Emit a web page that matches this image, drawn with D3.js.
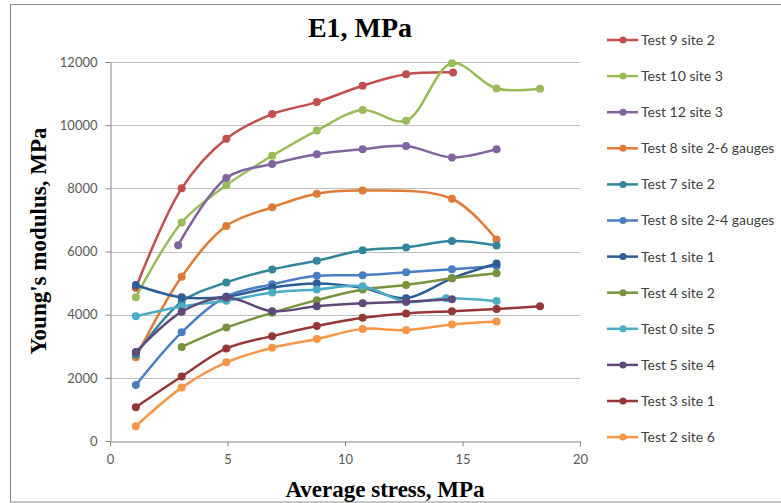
<!DOCTYPE html>
<html>
<head>
<meta charset="utf-8">
<script src="https://cdn.jsdelivr.net/npm/d3@7"></script>
<style>
  body { margin: 0; background: #fff; }
  svg { display: block; }
</style>
</head>
<body>
<svg id="chart" width="781" height="503"></svg>
<script>
// ---- Data ----
const seriesNames = [
  "Test 9 site 2", "Test 10 site 3", "Test 12 site 3", "Test 8 site 2-6 gauges",
  "Test 7 site 2", "Test 8 site 2-4 gauges", "Test 1 site 1", "Test 4 site 2",
  "Test 0 site 5", "Test 5 site 4", "Test 3 site 1", "Test 2 site 6"
];
const seriesColors = [
  "#C0504D", "#9BBB59", "#8064A2", "#E07B35",
  "#31859C", "#4A7EC2", "#2C5D97", "#77933C",
  "#4BACC6", "#5F497A", "#953735", "#F79646"
];
const test9site2X = [1.1, 3.05, 4.95, 6.9, 8.8, 10.75, 12.6, 14.6];
const test9site2Y = [4850, 8000, 9570, 10350, 10730, 11250, 11610, 11670];
const test10site3X = [1.1, 3.05, 4.95, 6.9, 8.8, 10.75, 12.6, 14.55, 16.45, 18.3];
const test10site3Y = [4550, 6920, 8100, 9030, 9830, 10480, 10140, 11960, 11160, 11150];
const test12site3X = [2.9, 4.95, 6.9, 8.8, 10.75, 12.6, 14.55, 16.45];
const test12site3Y = [6200, 8330, 8770, 9080, 9240, 9340, 8980, 9240];
const test8site26X = [1.1, 3.05, 4.95, 6.9, 8.8, 10.75, 14.55, 16.45];
const test8site26Y = [2650, 5200, 6810, 7400, 7830, 7930, 7670, 6380];
const test7site2X = [1.1, 3.05, 4.95, 6.9, 8.8, 10.75, 12.6, 14.55, 16.45];
const test7site2Y = [2730, 4410, 5020, 5430, 5710, 6040, 6130, 6330, 6190];
const test8site24X = [1.1, 3.05, 4.95, 6.9, 8.8, 10.75, 12.6, 14.55, 16.45];
const test8site24Y = [1770, 3440, 4570, 4960, 5230, 5250, 5340, 5440, 5540];
const test1site1X = [1.1, 3.05, 4.95, 6.9, 8.8, 10.75, 12.6, 14.55, 16.45];
const test1site1Y = [4940, 4550, 4570, 4860, 4990, 4850, 4520, 5150, 5620];
const test4site2X = [3.05, 4.95, 6.9, 8.8, 10.75, 12.6, 14.55, 16.45];
const test4site2Y = [2980, 3590, 4060, 4460, 4800, 4940, 5150, 5310];
const test0site5X = [1.1, 3.05, 4.95, 6.9, 8.8, 10.75, 12.6, 14.3, 16.45];
const test0site5Y = [3950, 4260, 4440, 4700, 4800, 4900, 4410, 4520, 4430];
const test5site4X = [1.1, 3.05, 4.95, 6.9, 8.8, 10.75, 12.6, 14.55];
const test5site4Y = [2820, 4090, 4540, 4110, 4270, 4360, 4410, 4490];
const test3site1X = [1.1, 3.05, 4.95, 6.9, 8.8, 10.75, 12.6, 14.55, 16.45, 18.3];
const test3site1Y = [1070, 2040, 2930, 3320, 3640, 3900, 4040, 4110, 4180, 4270];
const test2site6X = [1.1, 3.05, 4.95, 6.9, 8.8, 10.75, 12.6, 14.55, 16.45];
const test2site6Y = [470, 1690, 2490, 2950, 3230, 3550, 3510, 3690, 3780];

const xTicks = [0, 5, 10, 15, 20];
const yTicks = [0, 2000, 4000, 6000, 8000, 10000, 12000];
const chartTitle = "E1, MPa";
const xTitle = "Average stress, MPa";
const yTitle = "Young's modulus, MPa";

const allX = [test9site2X, test10site3X, test12site3X, test8site26X, test7site2X, test8site24X,
  test1site1X, test4site2X, test0site5X, test5site4X, test3site1X, test2site6X];
const allY = [test9site2Y, test10site3Y, test12site3Y, test8site26Y, test7site2Y, test8site24Y,
  test1site1Y, test4site2Y, test0site5Y, test5site4Y, test3site1Y, test2site6Y];
const series = seriesNames.map((name, i) => ({
  name, color: seriesColors[i],
  points: allX[i].map((x, j) => ({ x, y: allY[i][j] }))
}));

// ---- Layout ----
const svg = d3.select("#chart");
const plot = { left: 110, right: 580, top: 62, bottom: 441 };

// chart border
svg.append("rect")
  .attr("x", 10.5).attr("y", 4.5).attr("width", 772).attr("height", 497.5)
  .attr("fill", "none").attr("stroke", "#8c8c8c").attr("stroke-width", 1);

const x = d3.scaleLinear().domain([0, 20]).range([plot.left, plot.right]);
const y = d3.scaleLinear().domain([0, 12000]).range([plot.bottom, plot.top]);

// gridlines
svg.append("g")
  .selectAll("line")
  .data(yTicks.filter(d => d > 0))
  .join("line")
  .attr("x1", plot.left).attr("x2", plot.right)
  .attr("y1", d => Math.round(y(d)) + 0.5).attr("y2", d => Math.round(y(d)) + 0.5)
  .attr("stroke", "#bfbfbf").attr("stroke-width", 1);

// axes
const yAxis = svg.append("g")
  .attr("transform", `translate(${plot.left + 0.5},0)`)
  .call(d3.axisLeft(y).tickValues(yTicks).tickSize(5).tickPadding(8).tickSizeOuter(0).tickFormat(d3.format("d")));
const xAxis = svg.append("g")
  .attr("transform", `translate(0,${plot.bottom + 0.5})`)
  .call(d3.axisBottom(x).tickValues(xTicks).tickSize(5).tickPadding(8).tickSizeOuter(0));

[yAxis, xAxis].forEach(g => {
  g.select(".domain").attr("stroke", "#868686");
  g.selectAll(".tick line").attr("stroke", "#868686");
  g.selectAll(".tick text")
    .attr("fill", "#595959")
    .style("font-family", "Lato, 'Open Sans', sans-serif")
    .style("font-size", "13px");
});

// series lines & markers
const line = d3.line()
  .x(d => x(d.x)).y(d => y(d.y))
  .curve(d3.curveCatmullRom.alpha(0.5));

const sg = svg.append("g");
series.forEach(s => {
  const g = sg.append("g");
  g.append("path")
    .datum(s.points)
    .attr("d", line)
    .attr("fill", "none")
    .attr("stroke", s.color)
    .attr("stroke-width", 2.5)
    .attr("stroke-linejoin", "round");
  g.selectAll("circle")
    .data(s.points)
    .join("circle")
    .attr("cx", d => x(d.x)).attr("cy", d => y(d.y))
    .attr("r", 4)
    .attr("fill", s.color);
});

// titles
svg.append("text")
  .attr("x", 360).attr("y", 37)
  .attr("text-anchor", "middle")
  .style("font-family", "'Liberation Serif', 'Times New Roman', serif")
  .style("font-weight", "bold").style("font-size", "28px")
  .attr("fill", "#000")
  .text(chartTitle);

svg.append("text")
  .attr("x", 385).attr("y", 497)
  .attr("text-anchor", "middle")
  .style("font-family", "'Liberation Serif', 'Times New Roman', serif")
  .style("font-weight", "bold").style("font-size", "23px")
  .attr("fill", "#000")
  .text(xTitle);

svg.append("text")
  .attr("transform", "translate(46,241) rotate(-90)")
  .attr("text-anchor", "middle")
  .style("font-family", "'Liberation Serif', 'Times New Roman', serif")
  .style("font-weight", "bold").style("font-size", "23px")
  .attr("fill", "#000")
  .text(yTitle);

// legend
const legend = svg.append("g");
const lg = legend.selectAll("g")
  .data(series)
  .join("g")
  .attr("transform", (d, i) => `translate(0,${40 + i * 36.1})`);
lg.append("line")
  .attr("x1", 607).attr("x2", 638).attr("y1", 0).attr("y2", 0)
  .attr("stroke", d => d.color).attr("stroke-width", 2.5);
lg.append("circle")
  .attr("cx", 623).attr("cy", 0).attr("r", 3.5)
  .attr("fill", d => d.color);
lg.append("text")
  .attr("x", 641).attr("y", 0).attr("dy", "0.35em")
  .style("font-family", "Lato, 'Open Sans', sans-serif")
  .style("font-size", "14px")
  .attr("fill", "#404040")
  .text(d => d.name);
</script>
</body>
</html>
